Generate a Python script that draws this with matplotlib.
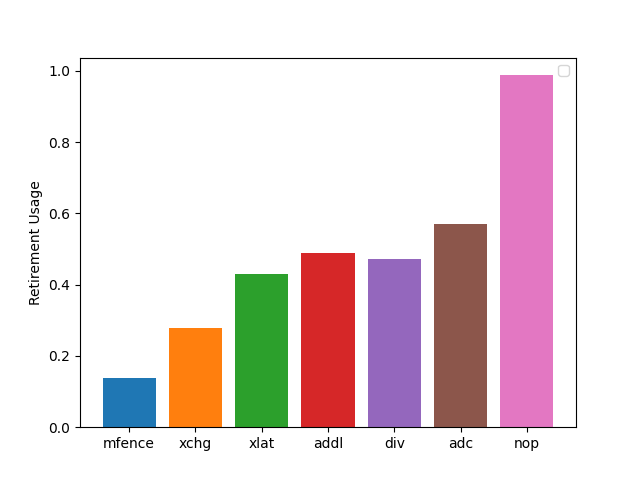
import matplotlib
matplotlib.use("Agg")
import matplotlib.pyplot as plt

categories = ["mfence", "xchg", "xlat", "addl", "div", "adc", "nop"]
values = [0.138, 0.278, 0.430, 0.489, 0.472, 0.570, 0.988]
colors = ["#1f77b4", "#ff7f0e", "#2ca02c", "#d62728", "#9467bd", "#8c564b", "#e377c2"]

fig, ax = plt.subplots(figsize=(6.4, 4.8), dpi=100)
ax.bar(categories, values, color=colors)
ax.set_ylabel("Retirement Usage")
ax.legend()
fig.savefig("out.png")
